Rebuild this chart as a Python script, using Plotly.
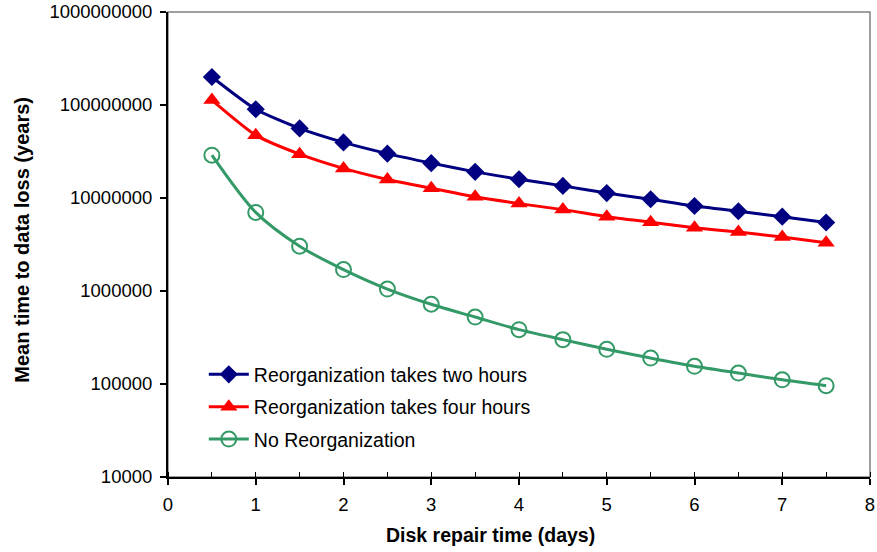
import plotly.graph_objects as go

days = [0.5, 1, 1.5, 2, 2.5, 3, 3.5, 4, 4.5, 5, 5.5, 6, 6.5, 7, 7.5]
two_hours = [2.0e8, 9.0e7, 5.6e7, 3.96e7, 3.0e7, 2.37e7, 1.91e7, 1.59e7, 1.35e7,
             1.13e7, 9.7e6, 8.2e6, 7.2e6, 6.3e6, 5.45e6]
four_hours = [1.13e8, 4.74e7, 2.96e7, 2.08e7, 1.58e7, 1.27e7, 1.03e7, 8.7e6, 7.5e6,
              6.3e6, 5.5e6, 4.8e6, 4.3e6, 3.8e6, 3.3e6]
no_reorg = [2.89e7, 7.0e6, 3.03e6, 1.70e6, 1.05e6, 7.2e5, 5.25e5, 3.84e5, 3.0e5,
            2.36e5, 1.9e5, 1.55e5, 1.31e5, 1.11e5, 9.6e4]

y_tickvals = [1e4, 1e5, 1e6, 1e7, 1e8, 1e9]
y_ticktext = ["10000", "100000", "1000000", "10000000", "100000000", "1000000000"]
x_tickvals = [0, 1, 2, 3, 4, 5, 6, 7, 8]

names = ["Reorganization takes two hours", "Reorganization takes four hours", "No Reorganization"]
x_title = "Disk repair time (days)"
y_title = "Mean time to data loss (years)"

FONT = "Liberation Sans, Arial, sans-serif"

fig = go.Figure()
fig.add_trace(go.Scatter(
    x=days, y=two_hours, name=names[0], mode="lines+markers",
    line=dict(color="#000080", width=3, shape="spline", smoothing=0.6),
    marker=dict(symbol="diamond", size=14, color="#000080"),
    legendgroup="a"))
fig.add_trace(go.Scatter(
    x=days, y=four_hours, name=names[1], mode="lines+markers",
    line=dict(color="#FF0000", width=3, shape="spline", smoothing=0.6),
    marker=dict(symbol="triangle-up", size=15, color="#FF0000"),
    legendgroup="b"))
fig.add_trace(go.Scatter(
    x=days, y=no_reorg, name=names[2], mode="lines+markers",
    line=dict(color="#339966", width=3, shape="spline", smoothing=0.8),
    marker=dict(symbol="circle-open", size=15, color="#339966", line=dict(width=2)),
    legendgroup="c"))

fig.update_layout(
    width=877, height=552,
    margin=dict(l=168, r=7, t=12, b=75),
    paper_bgcolor="white", plot_bgcolor="white",
    font=dict(family=FONT, size=18.5, color="black"),
    showlegend=True,
    legend=dict(x=0.051, y=0.262, xanchor="left", yanchor="top",
                bgcolor="rgba(0,0,0,0)", font=dict(size=19.5),
                traceorder="grouped", tracegroupgap=4, itemwidth=40),
    shapes=[dict(type="rect", xref="paper", yref="paper", x0=0, x1=1, y0=0, y1=1,
                 line=dict(color="#808080", width=1.5), layer="below")],
    annotations=[
        dict(text="<b>" + x_title + "</b>", xref="paper", yref="paper",
             x=0.4587, y=-0.1247, xanchor="center", yanchor="middle",
             showarrow=False, font=dict(size=19.5)),
        dict(text="<b>" + y_title + "</b>", xref="paper", yref="paper",
             x=-0.2084, y=0.5097, xanchor="center", yanchor="middle",
             textangle=-90, showarrow=False, font=dict(size=20)),
    ],
    xaxis=dict(
        range=[0, 8], tickvals=x_tickvals, ticks="outside", ticklen=6, tickwidth=1.5,
        tickcolor="black", showline=True, linecolor="black", linewidth=2,
        showgrid=False, zeroline=False, automargin=False, ticklabelstandoff=4,
        minor=dict(dtick=0.5, ticks="inside", ticklen=5, tickcolor="black", tickwidth=1.2),
    ),
    yaxis=dict(
        type="log", range=[4, 9], tickvals=y_tickvals, ticktext=y_ticktext,
        ticks="outside", ticklen=6, tickwidth=1.5, tickcolor="black",
        showline=True, linecolor="black", linewidth=2, showgrid=False, zeroline=False,
        automargin=False, ticklabelstandoff=4,
    ),
    xaxis2=dict(overlaying="x", matches="x", range=[0, 8], tickvals=x_tickvals,
                ticks="inside", ticklen=6, tickwidth=1.5, tickcolor="black",
                showticklabels=False, showline=False, showgrid=False,
                zeroline=False, automargin=False, side="bottom", anchor="y"),
    yaxis2=dict(overlaying="y", type="log", range=[4, 9], tickvals=y_tickvals,
                ticks="inside", ticklen=6, tickwidth=1.5, tickcolor="black",
                showticklabels=False, showline=False, showgrid=False,
                zeroline=False, automargin=False, side="left", anchor="x"),
)

fig.write_html("out.html")
